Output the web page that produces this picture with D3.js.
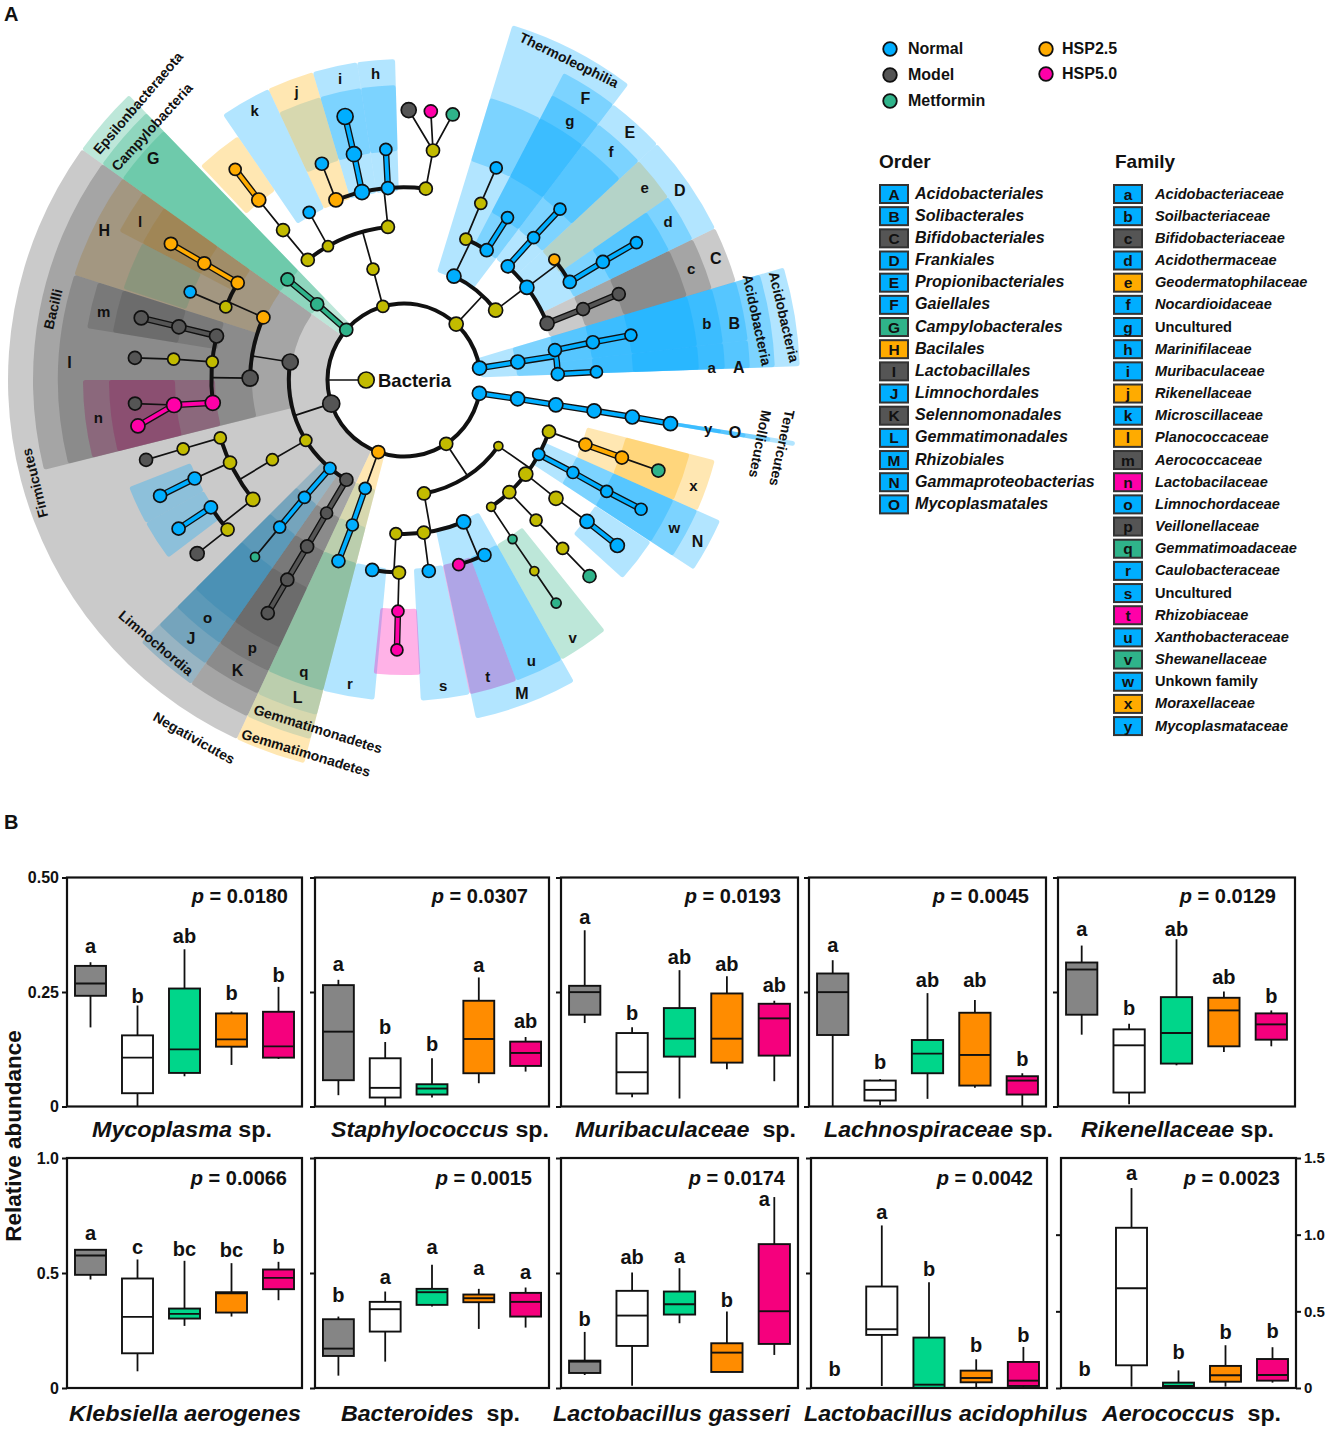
<!DOCTYPE html>
<html><head><meta charset="utf-8">
<script src="https://cdn.jsdelivr.net/npm/d3@7"></script>
<style>
html,body{margin:0;padding:0;background:#fff}
svg{display:block}
text{font-family:"Liberation Sans",Arial,sans-serif;font-weight:bold;fill:#111}
</style></head><body>
<svg id="c" width="1325" height="1430"></svg>
<script>
// ---------- Cladogram: taxa [id, parent, angle°, level, group, size] ----------
const treeNodes = [
["root",null,270,0,"olive",8],
["p1","root",81,1,"blue",7],["p2","root",100,1,"blue",7],["p3","root",146.5,1,"olive",6.5],["p4","root",199.6,1,"orange",6.5],
["p5","root",252,1,"gray",8.5],["p6","root",-49,1,"green",6.5],["p7","root",-16,1,"olive",6],["p8","root",43,1,"olive",7],
// Acidobacteria
["a1","p1",81,2,"blue",7],["a2","a1",78.8,3,"blue",6.5],["a3","a2",78.7,4,"blue",6.5],["a4","a3",78.8,5,"blue",6],
["a5","a1",87.8,3,"blue",6.5],["a6","a5",87.6,4,"blue",6],
// Tenericutes
["t1","p2",99.4,2,"blue",7],["t2","t1",99.3,3,"blue",7],["t3","t2",99.2,4,"blue",7],["t4","t3",99.2,5,"blue",7],["t5","t4",99.3,6,"blue",7],
// Actinobacteria
["b1","p8",25.7,2,"blue",7],["b2","p8",52.7,2,"olive",7],
["b3","b1",23.7,3,"olive",6],["b4","b3",23.5,4,"olive",6],["b5","b4",23.5,5,"blue",6],
["b6","b1",32.5,3,"blue",6.5],["b7","b6",32.5,4,"blue",6],
["b8","b2",42.4,3,"blue",6.5],["b9","b8",42.3,4,"blue",6],["b10","b9",42.4,5,"blue",6],
["b11","b2",53,3,"blue",7],["b12","b11",51.3,4,"orange",5.5],["b13","b11",59.4,4,"blue",6.5],["b14","b13",59.3,5,"blue",6.5],["b15","b14",59.4,6,"blue",6],
["b16","b2",68.4,3,"gray",7],["b17","b16",68.4,4,"gray",6.5],["b18","b17",68.2,5,"gray",6.5],
// Proteobacteria
["c1","p3",170,2,"olive",6.5],["c2","p3",125,2,"olive",4.5],
["c3","c1",183,3,"olive",6],["c4","c1",172.6,3,"olive",6.5],["c5","c1",157.2,3,"blue",7],
["c6","c3",181.5,4,"olive",6.5],["c7","c3",189.5,4,"blue",6.5],["c8","c6",181.5,5,"pink",6],["c9","c8",181.5,6,"pink",6],
["c10","c4",172.6,4,"blue",6.5],["c11","c5",155.3,4,"blue",6.5],["c12","c5",163.5,4,"pink",6],
["d1","c2",109.6,3,"olive",6.5],["d2","d1",109.6,4,"orange",6.5],["d3","d2",109.6,5,"orange",6.5],["d4","d3",109.6,6,"green",6.5],
["d5","c2",118.9,3,"blue",6],["d6","d5",118.7,4,"blue",6],["d7","d6",118.8,5,"blue",6],["d8","d7",118.6,6,"blue",6],
["d9","c2",127.7,3,"olive",7],["d10","d9",127.9,4,"olive",7],["d11","d10",127.7,5,"blue",7],["d12","d11",127.8,6,"blue",7],
["d13","c2",136.8,3,"olive",6.5],["d14","d13",136.7,4,"olive",6],["d15","d14",136.7,5,"olive",6],["d16","d15",136.6,6,"green",6.5],
["d17","c2",145.5,3,"olive",4.5],["d18","d17",145.7,4,"green",4.5],["d19","d18",145.7,5,"olive",4.5],["d20","d19",145.7,6,"green",5],
// Gemmatimonadetes
["g1","p4",199.7,2,"blue",6],["g2","g1",199.6,3,"blue",6],["g3","g2",199.9,4,"blue",6.5],
// Firmicutes and relatives
["f1","p5",279,2,"gray",8],["f2","p5",238.4,2,"olive",6],["f3","p5",220,2,"blue",6],["f4","p5",210,2,"gray",6.5],
["f5","f1",270.7,3,"gray",8],["f6","f1",294,3,"orange",6.5],
["f7","f5",283.2,4,"gray",7],["f8","f7",283.3,5,"gray",7],["f9","f8",283.3,6,"gray",7],
["f10","f5",275.4,4,"olive",6],["f11","f10",275.2,5,"olive",6],["f12","f11",274.7,6,"gray",6.5],
["f13","f5",263.2,4,"pink",7.5],["f14","f13",263.8,5,"pink",7.5],["f15","f14",265,6,"gray",6.5],["f16","f14",260.2,6,"pink",7],
["f17","f6",292.3,4,"olive",6],["f18","f17",292.4,5,"blue",6],["f19","f6",300.3,4,"orange",6.5],["f20","f19",300.3,5,"orange",6.5],["f21","f20",300.3,6,"orange",6.5],
["f22","f2",238.8,3,"olive",6],
["f23","f22",252.5,4,"olive",6],["f24","f23",252.7,5,"olive",6],["f25","f24",252.8,6,"gray",6.5],
["f26","f22",244.6,4,"olive",6.5],["f27","f26",244.8,5,"blue",6.5],["f28","f27",244.6,6,"blue",6.5],
["f29","f22",231.7,4,"olive",7],["f30","f29",236.6,5,"blue",6.5],["f31","f30",236.6,6,"blue",6.5],["f32","f29",229.7,5,"olive",6.5],["f33","f32",230,6,"gray",7],
["f34","f3",220.3,3,"blue",6],["f35","f34",220.2,4,"blue",6],["f36","f35",220.1,5,"green",4.5],
["f37","f4",210.2,3,"gray",6],["f38","f37",210.2,4,"gray",6.5],["f39","f38",210.3,5,"gray",6.5],["f40","f39",210.3,6,"gray",6.5],
// Epsilonbacteraeota
["e1","p6",-48.9,2,"green",6.5],["e2","e1",-49.2,3,"green",6.5],
// Bacteroidetes
["h1","p7",-15.6,2,"olive",6],
["h2","h1",-38.7,3,"olive",6.5],["h3","h2",-38.9,4,"olive",6.5],["h4","h3",-38.9,5,"orange",7],["h5","h4",-38.7,6,"orange",6],
["h6","h1",-29.6,3,"olive",5.5],["h7","h6",-29.5,4,"blue",6],
["h8","h1",-6,3,"olive",6.5],
["h9","h8",-20.7,4,"orange",7],["h10","h9",-20.8,5,"blue",6.5],
["h11","h8",-12.6,4,"blue",7.5],["h12","h11",-12.5,5,"blue",7.5],["h13","h12",-12.6,6,"blue",8],
["h14","h8",-4.8,4,"blue",6.5],["h15","h14",-4.5,5,"blue",6],
["h16","h8",6.5,4,"olive",6.5],["h17","h16",7.2,5,"olive",6.5],
["h18","h17",1,6,"gray",7.5],["h19","h17",5.7,6,"pink",6.5],["h20","h17",10.4,6,"green",6.5]
];
const ringSpan = [100,441];

// Highlighted clades [rank, from°, to°, group]
const phylumClades = [["phylum",205,305.6,"gray"],["phylum",305.6,316,"green"],["phylum",194.6,205,"orange"],["phylum",73.5,88,"blue"],["phylum",98.9,99.6,"blue"]];
const classClades = [["class",256,305.6,"gray"],["class",205,215,"gray"],["class",215,225,"slate"],["class",194.6,205,"sage"],["class",305.6,316,"green"],["class",73.5,88,"blue"],["class",17,37.2,"blue"],["class",98.9,99.6,"blue"]];
const orderClades = [["order",256,287.7,"gray"],["order",287.7,305.6,"tan"],["order",205,215,"gray"],["order",215,225,"slate"],["order",194.6,205,"sage"],["order",305.6,316,"green"],["order",83.4,88,"blue"],["order",73.5,83.4,"blue"],["order",64,73.5,"gray"],["order",47,64,"blue"],["order",37.2,47,"blue"],["order",27.5,37.2,"blue"],["order",150.6,168,"blue"],["order",114,123.2,"blue"],["order",98.9,99.6,"blue"]];
const familyClades = [["family",83.4,88,"blue"],["family",73.5,83.4,"blue"],["family",64,73.5,"gray"],["family",55.3,64,"blue"],["family",47,55.3,"khaki"],["family",37.2,47,"blue"],["family",27.5,37.2,"blue"],["family",-8.4,-1.6,"blue"],["family",-16.5,-8.4,"blue"],["family",-25,-16.5,"orange"],["family",-34.3,-25,"blue"],["family",297.6,305.6,"tan"],["family",279.3,287.7,"gray"],["family",256,270,"plum"],["family",215,225,"slate"],["family",205,215,"gray"],["family",194.6,205,"teal"],["family",185.3,194.6,"blue"],["family",168.2,177,"blue"],["family",159.5,168.2,"violet"],["family",150.6,159.5,"blue"],["family",141.3,150.6,"green"],["family",114,123.2,"blue"],["family",104.5,114,"orange"],["family",98.9,99.6,"blue"]];
const genusClades = [["genus",83.4,88,"blue"],["genus",73.5,83.4,"blue"],["genus",64,73.5,"gray"],["genus",55.3,64,"blue"],["genus",37.2,47,"blue"],["genus",27.5,37.2,"blue"],["genus",17,27.5,"blue"],["genus",-8.4,-1.6,"blue"],["genus",-16.5,-8.4,"blue"],["genus",-25,-16.5,"sage"],["genus",-43.5,-34.3,"orange"],["genus",297.6,305.6,"tan"],["genus",288,297.6,"moss"],["genus",279.3,287.7,"gray"],["genus",256,270,"plum"],["genus",215,225,"slate"],["genus",205,215,"gray"],["genus",241,248.7,"blue"],["genus",233,241,"blue"],["genus",176.8,185.9,"pink"],["genus",114,123.2,"blue"],["genus",123.3,132.2,"blue"],["genus",104.5,114,"orange"]];

const orderLetters = [["A",87.8],["B",80.3],["C",68.6],["D",55.4],["E",42.4],["F",32.8],["G",-48.5],["H",296.5],["I",273],["J",219.5],["K",209.8],["L",198.5],["M",159.4],["N",118.8],["O",99]];
const familyLetters = [["a",87.6],["b",79.5],["c",68.8],["d",59],["e",51.4],["f",42.2],["g",32.6],["h",-5.3],["i",-12],["j",-20.4],["k",-29],["l",301],["m",282.9],["n",262.9],["o",219.6],["p",209.5],["q",199],["r",190.1],["s",172.7],["t",164.2],["u",155.6],["v",146.8],["w",118.6],["x",110],["y",99]];
const cladeTexts = ["Epsilonbacteraeota","Campylobacteria","Thermoleophilia","Acidobacteria","Acidobacteria","Mollicutes","Tenericutes","Firmicutes","Bacilli","Limnochordia","Negativicutes","Gemmatimonadetes","Gemmatimonadetes"];

// ---------- Legends ----------
const treatmentNames = ["Normal","Model","Metformin","HSP2.5","HSP5.0"];
const treatmentGroups = ["blue","gray","green","orange","pink"];
const orderCodes = ["A","B","C","D","E","F","G","H","I","J","K","L","M","N","O"];
const orderNames = ["Acidobacteriales","Solibacterales","Bifidobacteriales","Frankiales","Propionibacteriales","Gaiellales","Campylobacterales","Bacilales","Lactobacillales","Limnochordales","Selennomonadales","Gemmatimonadales","Rhizobiales","Gammaproteobacterias","Mycoplasmatales"];
const orderGroups = ["blue","blue","gray","blue","blue","blue","green","orange","gray","blue","gray","blue","blue","blue","blue"];
const familyCodes = "abcdefghijklmnopqrstuvwxy".split("");
const familyNames = ["Acidobacteriaceae","Soilbacteriaceae","Bifidobacteriaceae","Acidothermaceae","Geodermatophilaceae","Nocardioidaceae","Uncultured","Marinifilaceae","Muribaculaceae","Rikenellaceae","Microscillaceae","Planococcaceae","Aerococcaceae","Lactobacilaceae","Limnochordaceae","Veillonellaceae","Gemmatimoadaceae","Caulobacteraceae","Uncultured","Rhizobiaceae","Xanthobacteraceae","Shewanellaceae","Unkown family","Moraxellaceae","Mycoplasmataceae"];
const familyGroups = ["blue","blue","gray","blue","orange","blue","blue","blue","blue","orange","blue","orange","gray","pink","blue","gray","green","blue","blue","pink","blue","green","blue","orange","blue"];

// ---------- Box plots: [low, q1, median, q3, high] for Model, Normal, Metformin, HSP2.5, HSP5.0 ----------
const boxGroups = ["Model","Normal","Metformin","HSP2.5","HSP5.0"];
const mycoplasma = [[.1727,.2417,.2685,.307,.315],[0,.029,.1067,.1553,.2206],[.066,.0733,.1248,.2576,.3433],[.0907,.1306,.1466,.2032,.2075],[.1038,.1067,.1313,.2068,.2612]];
const staphylococcus = [[.0247,.0574,.1634,.265,.2766],[0,.0196,.0407,.1053,.1408],[.0196,.0261,.0392,.0486,.1053],[.0508,.0726,.1474,.2309,.2817],[.0762,.0886,.1169,.1416,.1517]];
const muribaculaceae = [[.1822,.2004,.2497,.2635,.3848],[.0203,.0283,.0748,.1604,.1728],[.0174,.1089,.1481,.2149,.2977],[.0813,.0958,.1481,.2468,.2846],[.0552,.1111,.1924,.2243,.2309]];
const lachnospiraceae = [[0,.1561,.2497,.2904,.3194],[.0029,.0131,.0363,.0566,.0603],[.0167,.0726,.1154,.1452,.2476],[.0407,.0457,.1125,.2047,.2323],[0,.0261,.0566,.0661,.0726]];
const rikenellaceae = [[.1568,.2004,.2991,.3144,.3514],[.0051,.0305,.1336,.1684,.1808],[.09,.0937,.1604,.2388,.3652],[.1191,.1314,.2098,.2374,.2512],[.1314,.1459,.1793,.2033,.2098]];
const klebsiella = [[.4717,.492,.5762,.6009,.6009],[.0726,.1509,.3091,.4761,.5588],[.27,.3019,.3222,.3454,.553],[.3106,.328,.4122,.4165,.5428],[.3817,.4296,.479,.5152,.5486]];
const bacteroides = [[.0537,.1393,.1713,.299,.3106],[.1147,.2453,.3425,.3745,.4194],[.3541,.3614,.4165,.4311,.5356],[.2569,.373,.3904,.4064,.4311],[.2627,.3106,.3745,.4136,.4369]];
const gasseri = [[.0566,.0653,.1147,.119,.2438],[.0102,.1829,.3149,.4224,.5022],[.2816,.3193,.3643,.4194,.521],[.0697,.0697,.1538,.1945,.3324],[.1437,.1916,.3338,.6255,.8302]];
const acidophilus = [null,[.0087,.2308,.2554,.4412,.7068],[0,0,.0145,.2192,.4601],[0,.0247,.0435,.0755,.1248],[0,.0087,.0319,.1132,.1785]];
const aerococcus = [null,[.0087,.148,.651,1.045,1.304],[0,0,.013,.035,.115],[.009,.041,.083,.144,.279],[.035,.048,.085,.189,.266]];
const mycoplasmaLetters = ["a","b","ab","b","b"], mycoplasmaLetterY = [.336,.226,.356,.232,.272];
const staphylococcusLetters = ["a","b","b","a","ab"], staphylococcusLetterY = [.296,.159,.121,.293,.172];
const muribaculaceaeLetters = ["a","b","ab","ab","ab"], muribaculaceaeLetterY = [.399,.188,.311,.295,.249];
const lachnospiraceaeLetters = ["a","b","ab","ab","b"], lachnospiraceaeLetterY = [.338,.081,.261,.261,.088];
const rikenellaceaeLetters = ["a","b","ab","ab","b"], rikenellaceaeLetterY = [.372,.2,.372,.268,.227];
const klebsiellaLetters = ["a","c","bc","bc","b"], klebsiellaLetterY = [.644,.581,.574,.568,.581];
const bacteroidesLetters = ["b","a","a","a","a"], bacteroidesLetterY = [.373,.454,.581,.492,.473];
const gasseriLetters = ["b","ab","a","b","a"], gasseriLetterY = [.271,.539,.544,.352,.793];
const acidophilusLetters = ["b","a","b","b","b"], acidophilusLetterY = [.052,.735,.486,.158,.202];
const aerococcusLetters = ["b","a","b","b","b"], aerococcusLetterY = [.078,1.356,.192,.32,.324];
const pValues = ["0.0180","0.0307","0.0193","0.0045","0.0129","0.0066","0.0015","0.0174","0.0042","0.0023"];
const panelNames = [["Mycoplasma"," sp."],["Staphylococcus"," sp."],["Muribaculaceae","  sp."],["Lachnospiraceae"," sp."],["Rikenellaceae"," sp."],["Klebsiella aerogenes",""],["Bacteroides","  sp."],["Lactobacillus gasseri",""],["Lactobacillus acidophilus",""],["Aerococcus","  sp."]];

// ---------- Styles ----------
const fillOf = {blue:"#00a8ff",gray:"#505050",orange:"#ffb000",green:"#25b080",pink:"#ff00b0",slate:"#2580b0",sage:"#7ab5a8",teal:"#30a090",tan:"#a07830",moss:"#569371",plum:"#8a175a",violet:"#a812ac",khaki:"#b9a848"};
const nodeFill = {blue:"#00aeff",gray:"#555555",orange:"#ffab00",green:"#2fb38a",pink:"#ff00a8",olive:"#c2bb00"};
const boxFill = {Model:"#858585",Normal:"#ffffff",Metformin:"#00d68a","HSP2.5":"#ff8c00","HSP5.0":"#f5007d"};

const svg = d3.select("#c");
const rad = d => d*Math.PI/180;
const g = svg.append("g").attr("transform","translate(404,380)");
const r = d3.scaleLinear().domain([0,6]).range([37.8,270]);
const bands = {phylum:[77,396],class:[113,371],order:[152,346],family:[189,321],genus:[229,295]};
const wedgeArc = d3.arc().cornerRadius(2.5);

// wedges
[phylumClades,classClades,orderClades,familyClades,genusClades].forEach(list=>{
  g.append("g").selectAll("path").data(list).join("path")
   .attr("d",d=>wedgeArc({innerRadius:bands[d[0]][0],outerRadius:bands[d[0]][1],startAngle:rad(d[1]),endAngle:rad(d[2])}))
   .attr("fill",d=>fillOf[d[3]]).attr("fill-opacity",.3);
});

// tree
const nodes = treeNodes.map(d=>({id:d[0],parent:d[1],a:d[2],lv:d[3],group:d[4],size:d[5]}));
const byId = new Map(nodes.map(n=>[n.id,n]));
const pos = (a,lv)=>d3.pointRadial(rad(a),r(lv));
const links = g.append("g");
function seg(p,q,w,col){links.append("line").attr("x1",p[0]).attr("y1",p[1]).attr("x2",q[0]).attr("y2",q[1]).attr("stroke",col).attr("stroke-width",w).attr("stroke-linecap","round");}
function ring(a0,a1,lv,w,col){links.append("path").attr("d",d3.arc()({innerRadius:r(lv)-w/2,outerRadius:r(lv)+w/2,startAngle:rad(a0),endAngle:rad(a1)})).attr("fill",col);}
const groupsByParent = d3.group(nodes.filter(n=>n.parent),n=>n.parent);
const colored=[];
const thin=1.7, thick=4, chainOuter=6.5, chainInner=3.8;
groupsByParent.forEach((kids,pid)=>{
  const p = byId.get(pid);
  if(pid==="root"){
    seg(pos(p.a,p.lv),pos(p.a,1),thin,"#111");
    ring(ringSpan[0],ringSpan[1],1,thick,"#111");
    return;
  }
  const straight = kids.length===1 || kids[0].lv===6;
  if(straight){
    kids.forEach(k=>{
      const same = k.group===p.group && k.group!=="olive";
      if(same) colored.push({from:pos(p.a,p.lv),to:pos(k.a,k.lv),group:k.group});
      else seg(pos(p.a,p.lv),pos(k.a,k.lv),thin,"#111");
    });
  } else {
    const lv = kids[0].lv;
    const ext = d3.extent(kids.map(k=>k.a).concat([p.a]));
    const allSame = p.group!=="olive" && kids.every(k=>k.group===p.group);
    if(allSame){
      colored.push({from:pos(p.a,p.lv),to:pos(p.a,lv),group:p.group});
      colored.push({arc:ext,lv,group:p.group});
    } else {
      seg(pos(p.a,p.lv),pos(p.a,lv),thin,"#111");
      ring(ext[0],ext[1],lv,thick,"#111");
    }
  }
});
const drawChain=(w,colFn)=>colored.forEach(c=>{
  if(c.arc) ring(c.arc[0],c.arc[1],c.lv,w,colFn(c));
  else seg(c.from,c.to,w,colFn(c));
});
drawChain(chainOuter,()=>"#111");
drawChain(chainInner,c=>nodeFill[c.group]);

g.append("g").selectAll("circle").data(nodes).join("circle")
 .attr("cx",d=>pos(d.a,d.lv)[0]).attr("cy",d=>pos(d.a,d.lv)[1]).attr("r",d=>d.size)
 .attr("fill",d=>nodeFill[d.group]).attr("stroke","#111").attr("stroke-width",1.7);

// clade letters
const letterSet=(list,rr,fs)=>g.append("g").selectAll("text").data(list).join("text")
 .attr("x",d=>d3.pointRadial(rad(d[1]),rr)[0]).attr("y",d=>d3.pointRadial(rad(d[1]),rr)[1]+fs*.36)
 .attr("text-anchor","middle").attr("font-size",fs).text(d=>d[0]);
letterSet(orderLetters,335,16);
letterSet(familyLetters,308,15);

// outer clade names: [x, y, rotation]
const cladePlace=[[138,103,-49.4],[152,127,-47.8],[569,60,26],[757,320,78],[784,317,77],[760,444,101],[782,448,102],[35,483,-104],[53,309,-76.5],[156,643,40],[194,738,29.5],[318,729,17.4],[306,753,16.8]];
svg.append("g").selectAll("text").data(cladeTexts).join("text")
 .attr("transform",(d,i)=>`translate(${cladePlace[i][0]},${cladePlace[i][1]}) rotate(${cladePlace[i][2]})`)
 .attr("text-anchor","middle").attr("dy","0.35em").attr("font-size",14).text(d=>d);

svg.append("text").attr("x",378).attr("y",387).attr("font-size",18.5).text("Bacteria");
svg.append("text").attr("x",4).attr("y",21).attr("font-size",20).text("A");
svg.append("text").attr("x",4).attr("y",829).attr("font-size",20).text("B");

// legends
const legendPlace=[[890,49],[890,75],[890,101],[1046,49],[1046,74]];
const tl=svg.append("g");
treatmentNames.forEach((n,i)=>{
  const [x,y]=legendPlace[i];
  tl.append("circle").attr("cx",x).attr("cy",y).attr("r",6.8).attr("fill",nodeFill[treatmentGroups[i]]).attr("stroke","#111").attr("stroke-width",1.8);
  tl.append("text").attr("x",x+(i<3?18:16)).attr("y",y+5).attr("font-size",16).attr("fill","#222").text(n);
});
svg.append("text").attr("x",879).attr("y",168).attr("font-size",19).text("Order");
svg.append("text").attr("x",1115).attr("y",168).attr("font-size",19).text("Family");
const whiteLetter=new Set(["C","I","K","c","m","n","p"]);
function keyColumn(codes,names,groups,bx,tx,fs){
  const y=d3.scaleLinear().domain([0,1]).range([194,216.17]);
  const col=svg.append("g");
  codes.forEach((c,i)=>{
    col.append("rect").attr("x",bx).attr("y",y(i)-9).attr("width",28).attr("height",18)
      .attr("fill",nodeFill[groups[i]]).attr("stroke","#333").attr("stroke-width",2);
    col.append("text").attr("x",bx+14).attr("y",y(i)+5.5).attr("text-anchor","middle").attr("font-size",15.5)
      .attr("fill",whiteLetter.has(c)?"#fff":"#111").text(c);
    col.append("text").attr("x",tx).attr("y",y(i)+4.5).attr("font-size",fs)
      .attr("font-style",/Uncultured|Unkown/.test(names[i])?"normal":"italic").attr("fill","#222").text(names[i]);
  });
}
keyColumn(orderCodes,orderNames,orderGroups,880,915,16.1);
keyColumn(familyCodes,familyNames,familyGroups,1114,1155,14.6);

// box plot panels
const panelData=[
 [mycoplasma,mycoplasmaLetters,mycoplasmaLetterY],[staphylococcus,staphylococcusLetters,staphylococcusLetterY],
 [muribaculaceae,muribaculaceaeLetters,muribaculaceaeLetterY],[lachnospiraceae,lachnospiraceaeLetters,lachnospiraceaeLetterY],
 [rikenellaceae,rikenellaceaeLetters,rikenellaceaeLetterY],[klebsiella,klebsiellaLetters,klebsiellaLetterY],
 [bacteroides,bacteroidesLetters,bacteroidesLetterY],[gasseri,gasseriLetters,gasseriLetterY],
 [acidophilus,acidophilusLetters,acidophilusLetterY],[aerococcus,aerococcusLetters,aerococcusLetterY]];
const panelX=[[67,302],[315,549],[561,798],[809,1046],[1058,1295],[67,302],[315,549],[561,798],[811,1047],[1061,1296]];
const pRight=[288,528,781,1029,1276,287,532,785,1033,1280];
const titleX=[[92,180],[331,218],[575,221],[824,229],[1081,193],[69,232],[341,179],[553,237],[804,284],[1102,179]];
panelData.forEach((pd,i)=>{
  const row=i<5?0:1;
  const top=row?1158:877.5, bot=row?1388:1106.5;
  const ymax=i<5?.5:(i===9?1.5:1);
  const y=d3.scaleLinear().domain([0,ymax]).range([bot,top]);
  const x=d3.scaleBand().domain(boxGroups).range(panelX[i]).paddingInner(.34).paddingOuter(.17);
  const pg=svg.append("g");
  pd[0].forEach((b,k)=>{
    const gx=boxGroups[k], cx=x(gx)+x.bandwidth()/2;
    if(b){
      pg.append("line").attr("x1",cx).attr("x2",cx).attr("y1",y(b[0])).attr("y2",y(b[4])).attr("stroke","#111").attr("stroke-width",1.8);
      pg.append("rect").attr("x",x(gx)).attr("width",x.bandwidth()).attr("y",y(b[3])).attr("height",y(b[1])-y(b[3]))
        .attr("fill",boxFill[gx]).attr("stroke","#111").attr("stroke-width",1.9);
      pg.append("line").attr("x1",x(gx)).attr("x2",x(gx)+x.bandwidth()).attr("y1",y(b[2])).attr("y2",y(b[2])).attr("stroke","#111").attr("stroke-width",1.9);
    }
    const shift = (i===7&&k===4)?-10:0;
    pg.append("text").attr("x",cx+shift).attr("y",y(pd[2][k])).attr("text-anchor","middle").attr("font-size",20).text(pd[1][k]);
  });
  pg.append("rect").attr("x",panelX[i][0]).attr("y",top).attr("width",panelX[i][1]-panelX[i][0]).attr("height",bot-top)
    .attr("fill","none").attr("stroke","#111").attr("stroke-width",2.2);
  // axis
  const vals=i<5?[0,.25,.5]:[0,.5,1];
  const lab=i===0?["0","0.25","0.50"]:i===5?["0","0.5","1.0"]:null;
  const ax=d3.axisLeft(y).tickValues(vals).tickSize(5).tickPadding(3).tickFormat((d,j)=>lab?lab[j]:"");
  const ag=pg.append("g").attr("transform",`translate(${panelX[i][0]},0)`).call(ax);
  ag.select(".domain").remove();
  ag.selectAll("line").attr("stroke","#111").attr("stroke-width",2);
  ag.selectAll("text").attr("font-size",16).attr("font-family",'"Liberation Sans",Arial,sans-serif').attr("font-weight","bold").attr("fill","#111");
  if(i===9){
    const rx=d3.axisRight(y).tickValues([0,.5,1,1.5]).tickSize(5).tickPadding(3).tickFormat(d3.format(".1f"));
    const rg=pg.append("g").attr("transform",`translate(${panelX[i][1]},0)`).call(rx);
    rg.select(".domain").remove();
    rg.selectAll("line").attr("stroke","#111").attr("stroke-width",2);
    rg.selectAll("text").attr("font-size",15).attr("font-family",'"Liberation Sans",Arial,sans-serif').attr("font-weight","bold").attr("fill","#111")
      .text(d=>d===0?"0":d3.format(".1f")(d));
  }
  // p label
  const pt=pg.append("text").attr("x",pRight[i]).attr("y",row?1185:903).attr("text-anchor","end").attr("font-size",20);
  pt.append("tspan").attr("font-style","italic").text("p");
  pt.append("tspan").text(" = "+pValues[i]);
  // title
  const tt=pg.append("text").attr("x",titleX[i][0]).attr("y",row?1421:1137).attr("font-size",22)
    .attr("xml:space","preserve").style("white-space","pre")
    .attr("textLength",titleX[i][1]).attr("lengthAdjust","spacingAndGlyphs");
  tt.append("tspan").attr("font-style","italic").text(panelNames[i][0]);
  if(panelNames[i][1]) tt.append("tspan").text(panelNames[i][1]);
});
svg.append("text").attr("transform","translate(21,1136) rotate(-90)").attr("text-anchor","middle").attr("font-size",22.5).text("Relative abundance");
</script>
</body></html>
